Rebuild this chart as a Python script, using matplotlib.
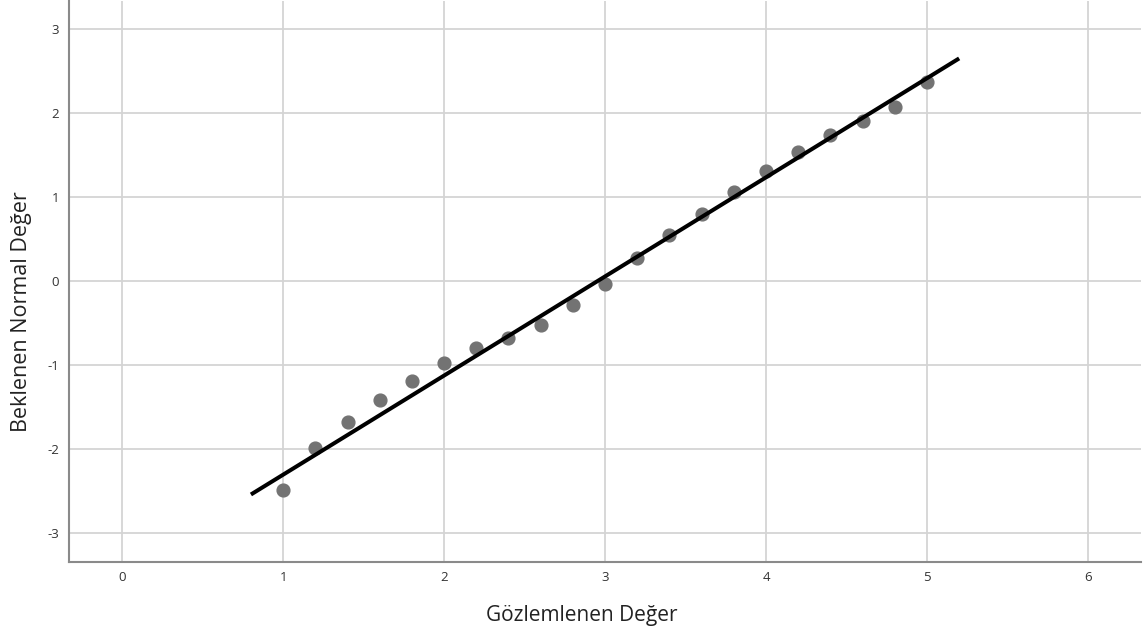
import matplotlib
matplotlib.use("Agg")
import matplotlib.pyplot as plt

# observed values and expected normal scores
observed = [1.0, 1.2, 1.4, 1.6, 1.8, 2.0, 2.2, 2.4, 2.6, 2.8, 3.0,
            3.2, 3.4, 3.6, 3.8, 4.0, 4.2, 4.4, 4.6, 4.8, 5.0]
expected = [-2.49, -1.99, -1.68, -1.41, -1.19, -0.98, -0.80, -0.68, -0.52, -0.29, -0.03,
            0.27, 0.55, 0.80, 1.06, 1.31, 1.54, 1.74, 1.90, 2.07, 2.37]

# reference line end points
line_x = [0.8, 5.2]
line_y = [-2.54, 2.65]

x_ticks = [0, 1, 2, 3, 4, 5, 6]
y_ticks = [-3, -2, -1, 0, 1, 2, 3]

plt.rcParams["font.family"] = ["Open Sans", "DejaVu Sans"]
plt.rcParams["axes.unicode_minus"] = False

fig = plt.figure(figsize=(11.47, 6.35), dpi=100)
ax = fig.add_axes([0.0602, 0.1154, 0.9346, 0.8826])

ax.grid(True, color="#d4d4d4", linewidth=1.3)
ax.set_axisbelow(True)

ax.plot(observed, expected, linestyle="none", marker="o", markersize=9.2,
        color="#737373", zorder=3)
ax.plot(line_x, line_y, color="black", linewidth=2.9, solid_capstyle="butt", zorder=4)

ax.set_xlim(-0.33, 6.33)
ax.set_ylim(-3.34, 3.33)
ax.set_xticks(x_ticks)
ax.set_yticks(y_ticks)
ax.tick_params(length=0, labelsize=9.5, colors="#333333", pad=7)

for side in ("top", "right"):
    ax.spines[side].set_visible(False)
for side in ("left", "bottom"):
    ax.spines[side].set_color("#8a8a8a")
    ax.spines[side].set_linewidth(1.5)

ax.set_xlabel("Gözlemlenen Değer", fontsize=15, color="#222222", labelpad=15)
ax.set_ylabel("Beklenen Normal Değer", fontsize=15.5, color="#222222", labelpad=11)
ax.xaxis.label.set_x(0.4785)
ax.yaxis.label.set_y(0.4455)

fig.savefig("out.png", dpi=100)
